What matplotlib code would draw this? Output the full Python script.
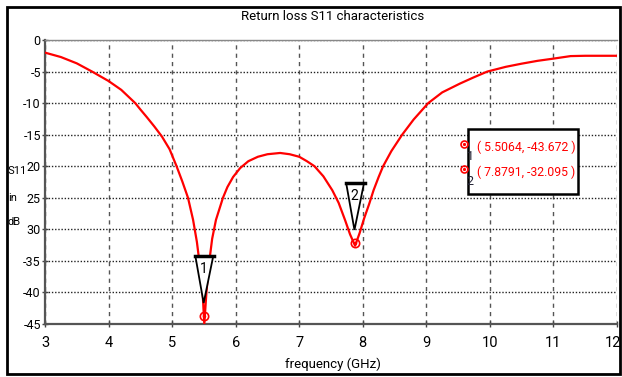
import matplotlib
matplotlib.use("Agg")
import matplotlib.pyplot as plt
from matplotlib.patches import Rectangle, Polygon
from matplotlib.transforms import ScaledTranslation

plt.rcParams['font.family'] = ['Roboto', 'DejaVu Sans']

# S11 curve
freq = [3.0, 3.25, 3.5, 3.74, 4.0, 4.2, 4.42, 4.5, 4.6, 4.72, 4.84, 4.96, 5.07,
        5.16, 5.25, 5.33, 5.39, 5.44, 5.48, 5.5064, 5.54, 5.58, 5.63, 5.69, 5.8,
        5.87, 5.96, 6.07, 6.2, 6.35, 6.5, 6.7, 6.85, 7.0, 7.12, 7.24, 7.38,
        7.52, 7.62, 7.72, 7.8, 7.8791, 7.95, 8.02, 8.1, 8.17, 8.25, 8.32, 8.45,
        8.62, 8.8, 9.03, 9.25, 9.53, 9.75, 9.96, 10.25, 10.5, 10.75, 11.0,
        11.27, 11.5, 12.0]
s11 = [-2.0, -2.7, -3.7, -5.0, -6.5, -7.9, -10.0, -11.0, -12.2, -13.7, -15.3,
       -17.3, -20.0, -22.4, -25.0, -28.5, -32.0, -36.0, -40.0, -45.0, -40.0,
       -35.5, -31.5, -28.5, -25.0, -23.3, -21.7, -20.3, -19.2, -18.5, -18.1,
       -17.9, -18.1, -18.5, -19.2, -20.0, -21.6, -23.8, -25.8, -28.5, -30.8,
       -32.6, -30.6, -28.3, -26.0, -23.8, -21.7, -20.0, -17.6, -15.0, -12.6,
       -10.0, -8.3, -6.9, -5.9, -5.0, -4.25, -3.75, -3.3, -2.95, -2.55, -2.5,
       -2.5]

# markers
mk_id = ['1', '2']
mk_f = [5.5064, 7.8791]
mk_s = [-43.672, -32.095]

xticks = [3, 4, 5, 6, 7, 8, 9, 10, 11, 12]
yticks = [0, -5, -10, -15, -20, -25, -30, -35, -40, -45]
ytick_labels = ['0', '-5', '-10', '-15', '20', '25', '30', '-35', '-40', '-45']

fig = plt.figure(figsize=(6.22, 3.77), dpi=100)
ax = fig.add_axes([45 / 622, 53 / 377, 572 / 622, 284 / 377])

# outer frame
fig.patches.append(Rectangle((7 / 622, 3 / 377), 613 / 622, 367 / 377,
                             transform=fig.transFigure, fill=False,
                             edgecolor='black', linewidth=2))

ax.plot(freq, s11, color='red', linewidth=1.6, zorder=3)

ax.set_xlim(3, 12)
ax.set_ylim(-45, 0)
ax.set_xticks(xticks)
ax.set_yticks(yticks)
ax.set_yticklabels(ytick_labels)
ax.tick_params(direction='inout', length=5, width=1, color='#444',
               labelsize=10.5)
ax.tick_params(axis='x', pad=6)
ax.tick_params(axis='y', pad=0.5, labelsize=9)

# last x label sits against the right edge
last = ax.get_xticklabels()[-1]
last.set_horizontalalignment('right')
last.set_transform(last.get_transform() +
                   ScaledTranslation(4 / 100, 0, fig.dpi_scale_trans))

ax.xaxis.grid(True, linestyle=(0, (3, 3)), color='#555', linewidth=1)
ax.yaxis.grid(True, linestyle=(0, (1, 1.3)), color='#222', linewidth=1)
ax.set_axisbelow(True)

for side in ['left', 'bottom']:
    ax.spines[side].set_color('#555')
    ax.spines[side].set_linewidth(1.6)
ax.spines['top'].set_color('#888')
ax.spines['top'].set_linewidth(1)
ax.spines['right'].set_visible(False)

# marker triangles and points
for name, f, s in zip(mk_id, mk_f, mk_s):
    tip = s + 2.0
    top = s + 9.4
    tri = Polygon([(f - 0.14, top), (f + 0.14, top), (f - 0.01, tip)],
                  closed=True, fill=True, facecolor='white',
                  edgecolor='black', linewidth=1.3, zorder=4)
    ax.add_patch(tri)
    ax.plot([f - 0.15, f + 0.15], [top, top], color='black', linewidth=2.5,
            zorder=5)
    ax.text(f - 0.01, top - 2.0, name, ha='center', va='center', fontsize=10,
            zorder=6)
    ax.plot(f, s, marker='o', markersize=6, markerfacecolor='none',
            markeredgecolor='red', markeredgewidth=1.2, zorder=6)
    ax.plot(f, s, marker='o', markersize=1.5, color='red', zorder=6)

# marker readout box
ax.add_patch(Rectangle((9.65, -24.4), 1.74, 10.3, facecolor='white',
                       edgecolor='black', linewidth=1.8, zorder=6))
for i, (name, f, s) in enumerate(zip(mk_id, mk_f, mk_s)):
    y = -17.0 - 3.9 * i
    ax.plot(9.6, y + 0.5, marker='o', markersize=5, markerfacecolor='none',
            markeredgecolor='red', markeredgewidth=1.2, zorder=7,
            clip_on=False)
    ax.plot(9.6, y + 0.5, marker='o', markersize=1.3, color='red', zorder=7,
            clip_on=False)
    ax.text(9.69, y - 1.5, name, ha='center', va='center', fontsize=9,
            color='#223', zorder=7)
    ax.text(9.8, y, '( %.4f, %.3f )' % (f, s), ha='left', va='center',
            fontsize=8.8, color='red', zorder=7)

fig.text(333 / 622, 1 - 16 / 377, 'Return loss S11 characteristics',
         ha='center', va='center', fontsize=9.5)
fig.text(333 / 622, 1 - 364 / 377, 'frequency (GHz)', ha='center',
         va='center', fontsize=9.5)
for lab, ypx in zip(['S11', 'in', 'dB'], [171, 198, 222]):
    fig.text(8 / 622, 1 - ypx / 377, lab, ha='left', va='center',
             fontsize=8)

fig.savefig('out.png', dpi=100)
